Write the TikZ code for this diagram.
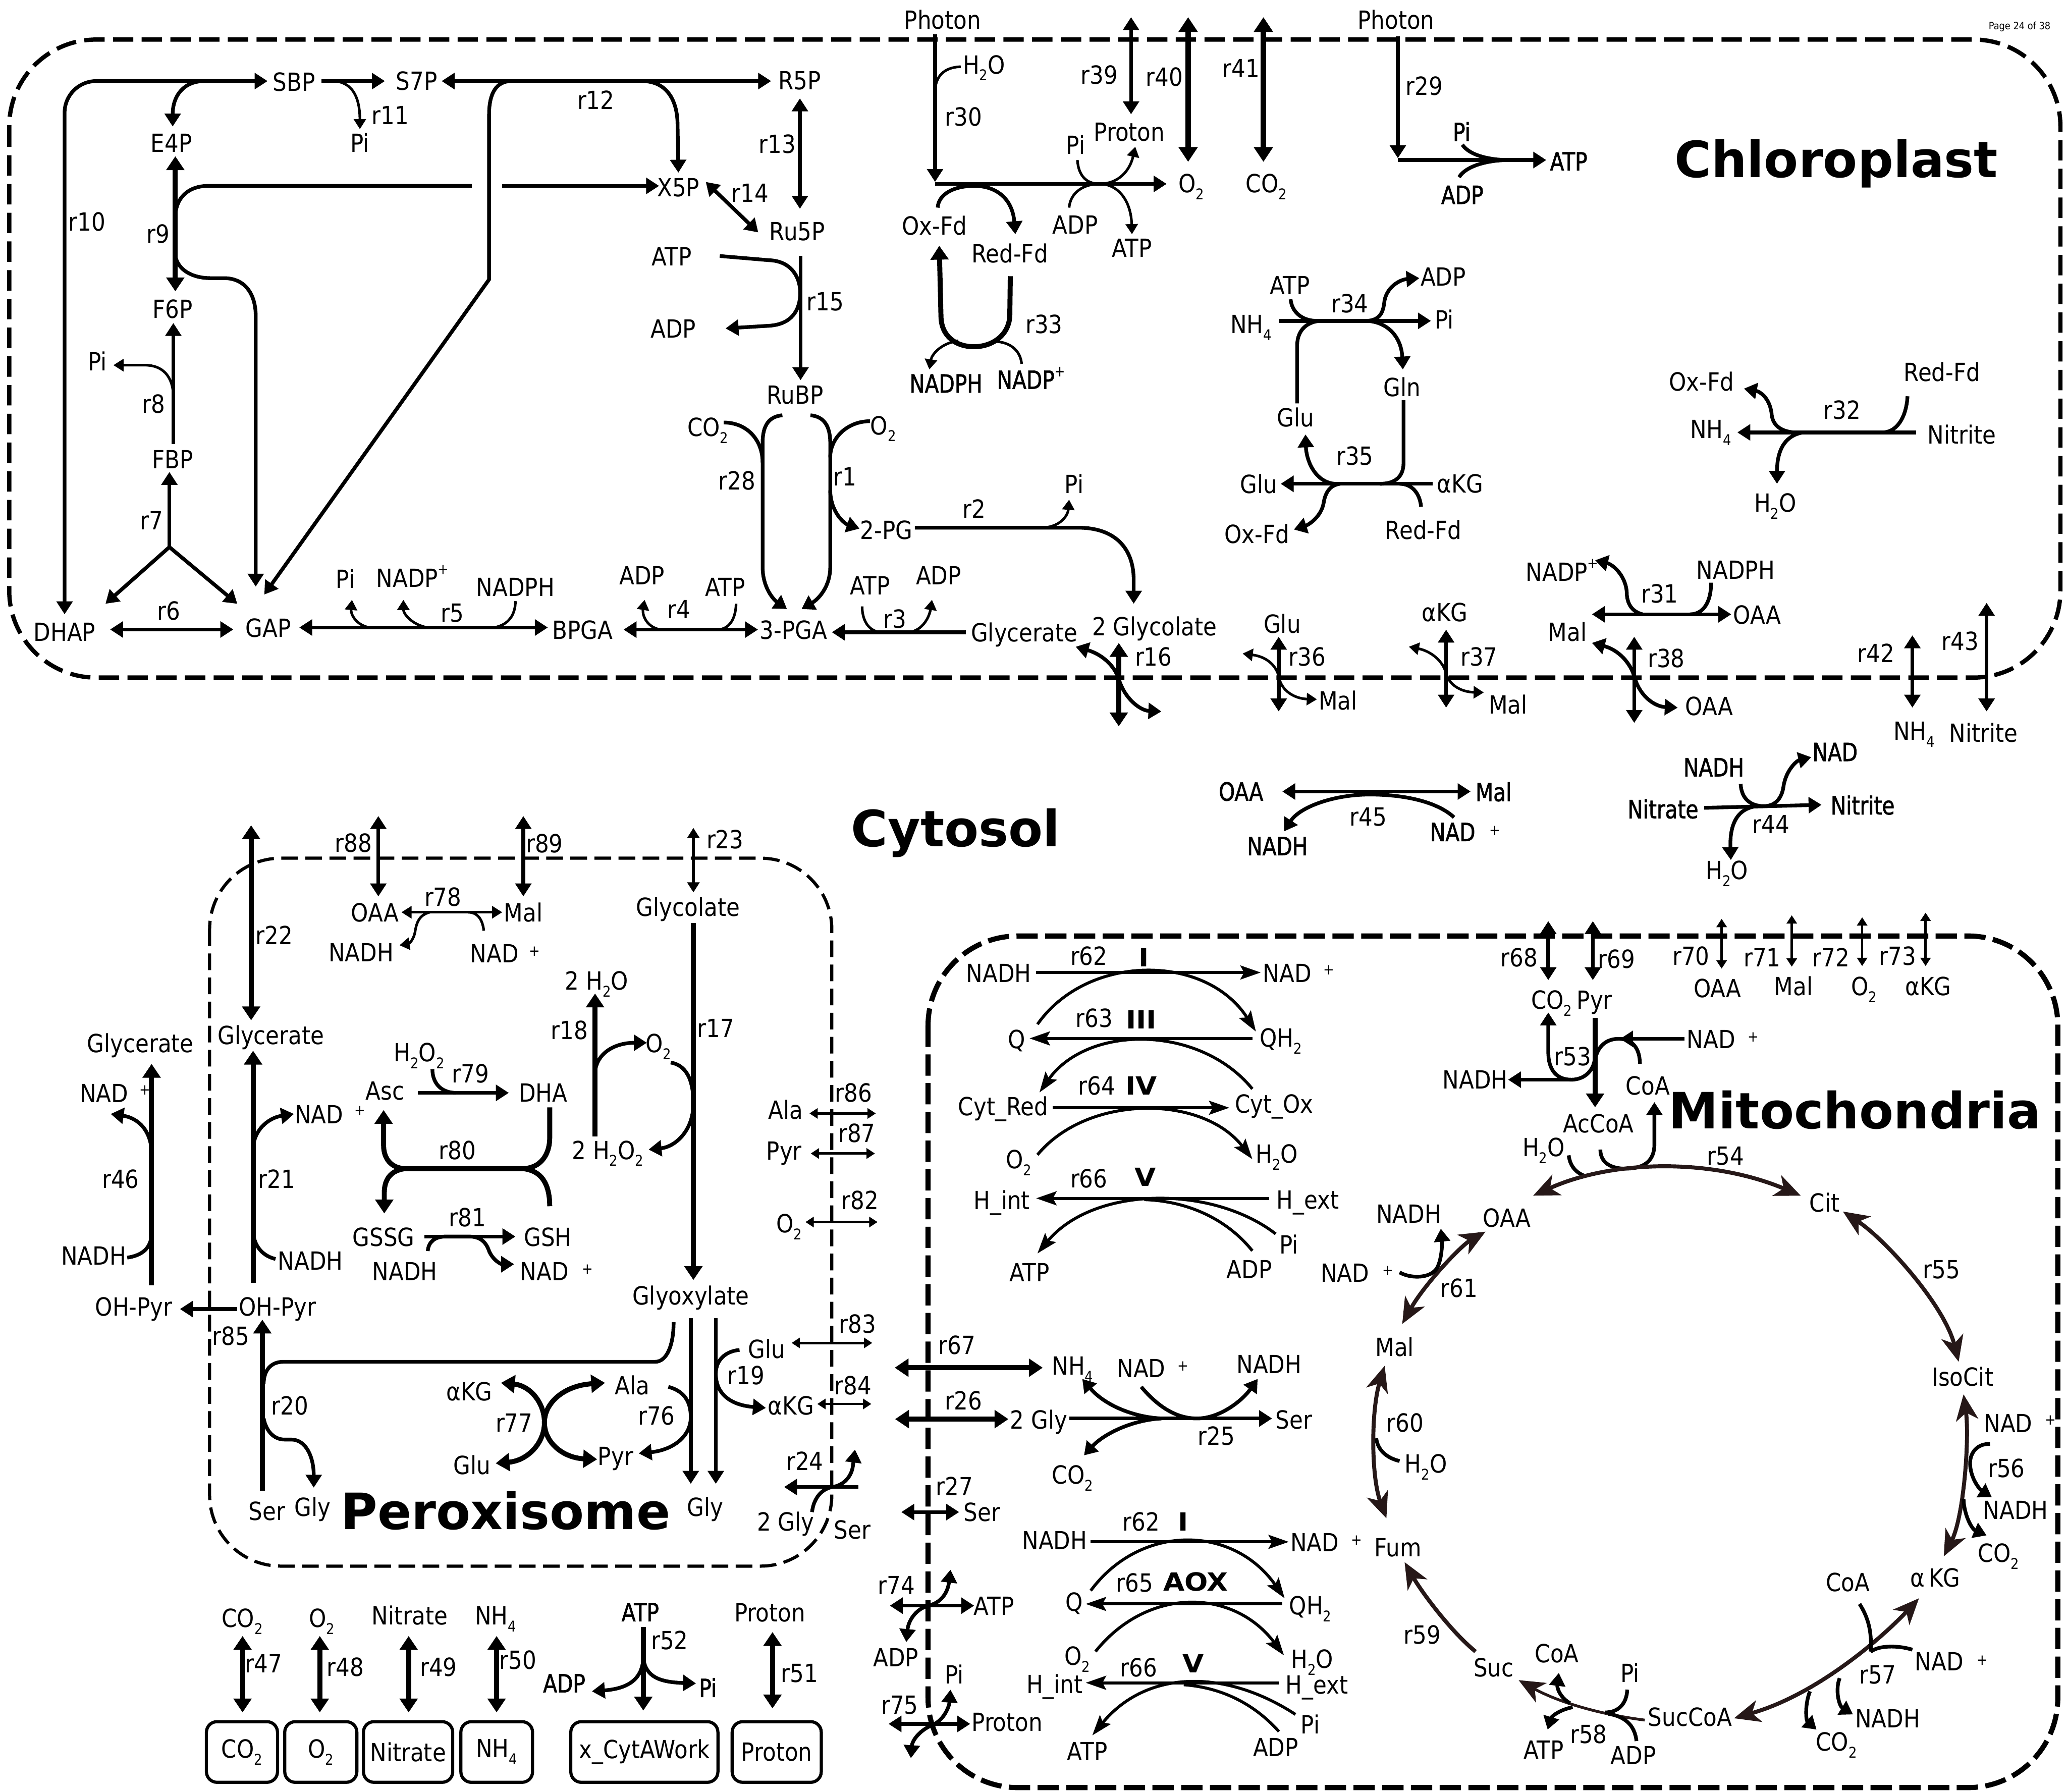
\documentclass[tikz,border=0pt]{standalone}
\usepackage{fontspec}
\setmainfont{DejaVu Sans}[FakeStretch=0.88]
\newfontfamily\titlef{DejaVu Sans}
\newfontfamily\romf{DejaVu Sans}[FakeStretch=1.1]
\newfontfamily\boldf{DejaVu Sans}[FakeStretch=0.82,FakeBold=1.5]
\usetikzlibrary{arrows.meta}
\newcommand\fs{\fontsize{27}{30}\selectfont}
\newcommand\sbs[1]{\raisebox{-0.28em}{\fontsize{16}{16}\selectfont #1}}
\newcommand\sps[1]{\raisebox{0.5em}{\fontsize{16}{16}\selectfont #1}}
\definecolor{tca}{RGB}{38,24,24}
\begin{document}
\begin{tikzpicture}[x=0.05cm,y=-0.05cm,
 every node/.style={font=\fs,inner sep=0pt,anchor=mid,yshift=-0.27cm},
 ln/.style={line width=4pt,>={Triangle[length=14pt,width=17pt]}},
 tk/.style={line width=5.4pt,>={Triangle[length=15pt,width=19pt]}},
 vt/.style={line width=6pt,>={Triangle[length=16pt,width=20pt]}},
 tn/.style={line width=2.8pt,>={Triangle[length=11pt,width=13pt]}},
 xs/.style={line width=2.6pt,>={Triangle[length=9pt,width=11pt]}},
 et/.style={line width=3.2pt,>={Stealth[length=22pt,width=15pt,inset=4pt]}},
 big/.style={line width=4.3pt,draw=tca,>={Stealth[length=28pt,width=24pt,inset=8pt]}},
 chl/.style={line width=4.6pt,dash pattern=on 22pt off 9pt},
 mit/.style={line width=5.5pt,dash pattern=on 23pt off 8pt},
 per/.style={line width=3.4pt,dash pattern=on 18pt off 8pt},
 bxn/.style={draw,line width=3.4pt,rounded corners=0.4cm,anchor=center,minimum height=2.3cm,yshift=0.27cm},
 ttl/.style={font=\titlef\bfseries\fontsize{54}{60}\selectfont,anchor=base,yshift=0.27cm},
 bld/.style={font=\boldf\fontsize{27}{30}\selectfont},
 rom/.style={font=\romf\bfseries\fontsize{27}{30}\selectfont},
 pl/.style={font=\fontsize{16}{16}\selectfont},
]
\useasboundingbox (0,0) rectangle (1568,1359);
% ================= compartments
\draw[chl,rounded corners=3.3cm] (7,30) rectangle (1563,514);
\draw[per,rounded corners=2.7cm] (159,651) rectangle (631,1188);
\draw[mit,rounded corners=3.4cm] (704,710) rectangle (1561,1356);

% ================= chloroplast texts
\node (ph1) at (715,14.5) {Photon};
\node (ph2) at (1059,14.5) {Photon};
\node[font=\fontsize{11}{12}\selectfont] (pg) at (1532,15) {Page 24 of 38};
\node[ttl] (tchl) at (1393,134.4) {Chloroplast};
\node (SBP) at (223,61.6) {SBP};
\node (S7P) at (316,61) {S7P};
\node (R5P) at (606.5,60.7) {R5P};
\node (E4P) at (130,108) {E4P};
\node (pi11) at (273,108) {Pi};
\node (l11) at (296,87) {r11};
\node (l10) at (66,168) {r10};
\node (l9) at (120,177) {r9};
\node (F6P) at (131,234) {F6P};
\node (pi8) at (74,274) {Pi};
\node (l8) at (116.5,306) {r8};
\node (FBP) at (131,348) {FBP};
\node (l7) at (115,394.5) {r7};
\node (X5P) at (514.6,141.6) {X5P};
\node (l12) at (452,75.7) {r12};
\node (l13) at (589.7,109) {r13};
\node (l14) at (569,146) {r14};
\node (Ru5P) at (604.8,174.9) {Ru5P};
\node (atp15) at (509.5,194.2) {ATP};
\node (adp15) at (510.8,249) {ADP};
\node (l15) at (626,228.3) {r15};
\node (RuBP) at (603,299) {RuBP};
\node (co2r) at (537,323.7) {CO\sbs{2}};
\node (o2r) at (670,322.3) {O\sbs{2}};
\node (l28) at (559,364.2) {r28};
\node (l1) at (641,361.3) {r1};
\node (PGtwo) at (672.5,401.7) {2-PG};
\node (l2) at (739,385.8) {r2};
\node (pi2) at (814.8,367) {Pi};
\node (h2o30) at (746.4,48.6) {H\sbs{2}O};
\node (l30) at (731,88) {r30};
\node (oxfd) at (708.8,171) {Ox-Fd};
\node (redfd) at (766,192) {Red-Fd};
\node (l33) at (792,245.7) {r33};
\node[bld] (nadph33) at (717.6,290.5) {NADPH};
\node[bld] (nadp33) at (782,287.6) {NADP\sps{+}};
\node (l39) at (834,56.4) {r39};
\node (prot) at (856.7,99.7) {Proton};
\node (l40) at (883.2,57.8) {r40};
\node (o2c) at (903.8,138.7) {O\sbs{2}};
\node (l41) at (941.4,51.4) {r41};
\node (co2c) at (960.7,138.7) {CO\sbs{2}};
\node (pi30) at (816,109.8) {Pi};
\node (adp30) at (815.6,170) {ADP};
\node (atp30) at (858.7,187.9) {ATP};
\node (l29) at (1080.5,65) {r29};
\node[bld] (pi29) at (1108.8,99.7) {Pi};
\node[bld] (adp29) at (1109.3,147.4) {ADP};
\node[bld] (atp29) at (1190,122) {ATP};
\node (atp34) at (978.5,216.2) {ATP};
\node (adp34) at (1094.8,209.5) {ADP};
\node (nh434) at (949,245.7) {NH\sbs{4}};
\node (l34) at (1024,229.8) {r34};
\node (pi34) at (1095.5,242.2) {Pi};
\node (gln) at (1063.7,293.4) {Gln};
\node (glu34) at (982.7,316.5) {Glu};
\node (l35) at (1027.8,345.4) {r35};
\node (glu35) at (955,367) {Glu};
\node (akg35) at (1107.6,366.5) {αKG};
\node (oxfd35) at (953.4,404.6) {Ox-Fd};
\node (redfd35) at (1079.7,401.7) {Red-Fd};
\node (oxfd32) at (1290.8,289) {Ox-Fd};
\node (redfd32) at (1473.2,281.8) {Red-Fd};
\node (nh432) at (1297.8,325.1) {NH\sbs{4}};
\node (l32) at (1397.3,310.7) {r32};
\node (nit32) at (1488.3,329.5) {Nitrite};
\node (h2o32) at (1346.7,381) {H\sbs{2}O};
\node (nadp31) at (1185,433.5) {NADP\sps{+}};
\node (l31) at (1259,450) {r31};
\node (nadph31) at (1316.6,432) {NADPH};
\node (mal31) at (1189,479) {Mal};
\node (oaa31) at (1333,466) {OAA};
\node (pi5) at (262,439) {Pi};
\node (nadp5) at (313,438) {NADP\sps{+}};
\node (nadph5) at (391,445) {NADPH};
\node (l5) at (343,464.5) {r5};
\node (DHAP) at (49,479) {DHAP};
\node (l6) at (128,463) {r6};
\node (GAP) at (203.5,476) {GAP};
\node (BPGA) at (442,477.6) {BPGA};
\node (l4) at (515,461.7) {r4};
\node (adp4) at (487,436) {ADP};
\node (atp4) at (550,445) {ATP};
\node (PGA) at (602,477.6) {3-PGA};
\node (atp3) at (660,444) {ATP};
\node (adp3) at (712,436) {ADP};
\node (l3) at (678.7,469) {r3};
\node (glyc) at (777,479.6) {Glycerate};
\node (glycotwo) at (875.7,474.7) {2 Glycolate};
\node (l16) at (875,497.8) {r16};
\node (glu36) at (972.7,473) {Glu};
\node (l36) at (991.5,497.8) {r36};
\node (mal36) at (1015,531) {Mal};
\node (akg37) at (1096,464) {αKG};
\node (l37) at (1122,497.8) {r37};
\node (mal37) at (1144,534) {Mal};
\node (l38) at (1264,499) {r38};
\node (oaa38) at (1296.6,535.4) {OAA};
\node (l42) at (1423,495) {r42};
\node (nh442) at (1452,554) {NH\sbs{4}};
\node (l43) at (1487,486) {r43};
\node (nit43) at (1504.6,555.6) {Nitrite};

% ================= cytosol texts
\node[ttl] (tcyt) at (725,642.3) {Cytosol};
\node[bld] (oaa45) at (941.4,600) {OAA};
\node[bld] (mal45) at (1133,600.4) {Mal};
\node (l45) at (1038,619) {r45};
\node[bld] (nadh45) at (969,641.4) {NADH};
\node[bld] (nad45) at (1102,630.7) {NAD};
\node[pl] (p45) at (1134,626.4) {+};
\node[bld] (nadh44) at (1300,581.6) {NADH};
\node[bld] (nad44) at (1392,570) {NAD};
\node[bld] (nitra44) at (1261.5,613.4) {Nitrate};
\node[bld] (nitri44) at (1413,610.5) {Nitrite};
\node (l44) at (1343.4,625) {r44};
\node (h2o44) at (1310,659.6) {H\sbs{2}O};
\node (l88) at (268,639) {r88};
\node (l89) at (413,639.4) {r89};
\node (l23) at (550,636.5) {r23};
\node (l22) at (208,709) {r22};
\node (oaa78) at (284.5,692) {OAA};
\node (l78) at (336,680) {r78};
\node (mal78) at (397,692) {Mal};
\node (nadh78) at (274,722) {NADH};
\node (nad78) at (375,723) {NAD};
\node[pl] (p78) at (405.5,718) {+};
\node (glyco) at (522,687.7) {Glycolate};
\node (glyc46) at (106.5,791) {Glycerate};
\node (glyc21) at (205.5,785) {Glycerate};
\node (nad46) at (79,829) {NAD};
\node[pl] (p46) at (110,823) {+};
\node (l46) at (91.5,894) {r46};
\node (nadh46) at (71,952) {NADH};
\node (ohpa) at (101.5,991) {OH-Pyr};
\node (ohpb) at (210.5,991) {OH-Pyr};
\node (l85) at (175,1013) {r85};
\node (nad21) at (242,845) {NAD};
\node[pl] (p21) at (273,839) {+};
\node (l21) at (210,894) {r21};
\node (nadh21) at (235.5,956) {NADH};
\node (h2o2a) at (318,798) {H\sbs{2}O\sbs{2}};
\node (l79) at (357,814) {r79};
\node (asc) at (292,827) {Asc};
\node (dha) at (412,828.7) {DHA};
\node (l80) at (347,872) {r80};
\node (gssg) at (291,938) {GSSG};
\node (l81) at (354.5,923) {r81};
\node (gsh) at (415.5,938) {GSH};
\node (nadh81) at (307,964) {NADH};
\node (nad81) at (413,964) {NAD};
\node[pl] (p81) at (445.6,959) {+};
\node (h2o18) at (452.6,743.5) {2 H\sbs{2}O};
\node (l18) at (432,781) {r18};
\node (o218) at (499.5,791) {O\sbs{2}};
\node (l17) at (543,779.6) {r17};
\node (h2o2b) at (461,872) {2 H\sbs{2}O\sbs{2}};
\node (ala86) at (596,841.7) {Ala};
\node (l86) at (647.4,828.7) {r86};
\node (pyr87) at (594.8,872.6) {Pyr};
\node (l87) at (650,859) {r87};
\node (o282) at (598.5,927.7) {O\sbs{2}};
\node (l82) at (652.4,910) {r82};
\node (glyox) at (524,982.6) {Glyoxylate};
\node (glu19) at (581.5,1023) {Glu};
\node (l19) at (566,1043) {r19};
\node (akg19) at (600,1066) {αKG};
\node (l83) at (650.6,1003.7) {r83};
\node (l84) at (647,1050.5) {r84};
\node (l20) at (220,1066) {r20};
\node (ser20) at (202.5,1146) {Ser};
\node (gly20) at (237,1143) {Gly};
\node (akg77) at (356,1055) {αKG};
\node (l77) at (390,1079) {r77};
\node (glu77) at (358,1111) {Glu};
\node (ala76) at (479.5,1050.5) {Ala};
\node (l76) at (498,1073.6) {r76};
\node (pyr76) at (467,1104) {Pyr};
\node (gly17) at (535,1143) {Gly};
\node[ttl] (tper) at (383.6,1160) {Peroxisome};
\node (l24) at (610.5,1108) {r24};
\node (gly24) at (596,1154) {2 Gly};
\node (ser24) at (646.6,1160) {Ser};
\node (l67) at (726,1020) {r67};
\node (nh425) at (813.6,1035.5) {NH\sbs{4}};
\node (l26) at (731,1062) {r26};
\node (gly26) at (788,1076.5) {2 Gly};
\node (l27) at (724,1127) {r27};
\node (ser27) at (745,1146.5) {Ser};
\node (l74) at (680,1202) {r74};
\node (atp74) at (754,1218) {ATP};
\node (adp74) at (679.5,1257) {ADP};
\node (l75) at (682.5,1293) {r75};
\node (pi75) at (724,1270) {Pi};
\node (prot75) at (764,1306) {Proton};
% bottom exchange
\node (co2b) at (183.7,1227) {CO\sbs{2}};
\node (o2b) at (244,1227) {O\sbs{2}};
\node (nitb) at (310.8,1225) {Nitrate};
\node (nh4b) at (376,1225) {NH\sbs{4}};
\node (l47) at (200,1261.5) {r47};
\node (l48) at (262,1264) {r48};
\node (l49) at (332.6,1264) {r49};
\node (l50) at (393,1259) {r50};
\node[bld] (atp52) at (485.7,1222.5) {ATP};
\node (l52) at (508,1244) {r52};
\node[bld] (adp52) at (428,1276.5) {ADP};
\node[bld] (pi52) at (537,1280) {Pi};
\node (protb) at (584,1223) {Proton};
\node (l51) at (606.5,1268.7) {r51};
\node[bxn,minimum width=2.695cm] (bco2) at (183.55,1329) {CO\sbs{2}};
\node[bxn,minimum width=2.735cm] (bo2) at (243.35,1329) {O\sbs{2}};
\node[bxn,minimum width=3.385cm] (bnit) at (309.55,1329) {Nitrate};
\node[bxn,minimum width=2.72cm] (bnh4) at (376.8,1329) {NH\sbs{4}};
\node[bxn,minimum width=5.58cm] (bwork) at (488.8,1329) {x\_CytAWork};
\node[bxn,minimum width=3.38cm] (bprot) at (589.2,1329) {Proton};

% ================= mitochondria texts
\node[ttl] (tmit) at (1407,856) {Mitochondria};
\node (l68) at (1152.4,726) {r68};
\node (co268) at (1177,758) {CO\sbs{2}};
\node (l69) at (1226.4,727) {r69};
\node (pyr69) at (1209.6,758) {Pyr};
\node (l70) at (1282.8,724.7) {r70};
\node (oaa70) at (1302.8,749.2) {OAA};
\node (l71) at (1336.7,726) {r71};
\node (mal71) at (1360.5,747.8) {Mal};
\node (l72) at (1389,726) {r72};
\node (o272) at (1414,747.8) {O\sbs{2}};
\node (l73) at (1439.4,724.7) {r73};
\node (akg73) at (1462.7,747.8) {αKG};
\node (nad53) at (1298,788) {NAD};
\node[pl] (p53) at (1330,783) {+};
\node (l53) at (1193,801) {r53};
\node (coa53) at (1250,823) {CoA};
\node (nadh53) at (1119,818.6) {NADH};
\node (accoa) at (1212.6,852) {AcCoA};
\node (h2o54) at (1171,870) {H\sbs{2}O};
\node (l54) at (1309,876.4) {r54};
\node (oaa54) at (1143,923.3) {OAA};
\node (cit) at (1384,911.8) {Cit};
\node (nadh61) at (1068.7,920.5) {NADH};
\node (l55) at (1472.7,962.4) {r55};
\node (isocit) at (1488.8,1044) {IsoCit};
\node (nad61) at (1020.3,965.2) {NAD};
\node[pl] (p61) at (1053,960.3) {+};
\node (l61) at (1106.8,976.8) {r61};
\node (mal61) at (1058,1021.6) {Mal};
\node (nad56) at (1523.4,1079.4) {NAD};
\node[pl] (p56) at (1555.4,1073.6) {+};
\node (l56) at (1522,1113.5) {r56};
\node (nadh56) at (1529,1145.3) {NADH};
\node (co256) at (1516,1177.7) {CO\sbs{2}};
\node (akg56) at (1468,1196.5) {α\,KG};
\node (l60) at (1066,1078.8) {r60};
\node (h2o60) at (1081.7,1109.8) {H\sbs{2}O};
\node (fum) at (1060.4,1173.3) {Fum};
\node (l59) at (1079,1239.8) {r59};
\node (suc) at (1133,1264.4) {Suc};
\node (coa57) at (1401.8,1200) {CoA};
\node (nad57) at (1471,1260) {NAD};
\node[pl] (p57) at (1503.8,1255.7) {+};
\node (l57) at (1424.4,1270) {r57};
\node (nadh57) at (1432,1303.4) {NADH};
\node (co257) at (1393,1320.7) {CO\sbs{2}};
\node (succoa) at (1282,1302) {SucCoA};
\node (pi58) at (1236.4,1268.7) {Pi};
\node (adp58) at (1239,1331) {ADP};
\node (l58) at (1205,1315) {r58};
\node (coa58) at (1181,1254) {CoA};
\node (atp58) at (1171,1327) {ATP};
% ETC upper
\node (nadh62) at (757.7,737.7) {NADH};
\node (l62) at (826,724.7) {r62};
\node[rom] (cI) at (867.5,726) {I};
\node (nad62) at (976.5,737.7) {NAD};
\node[pl] (p62) at (1008,732) {+};
\node (q63) at (771.4,788) {Q};
\node (l63) at (830,772) {r63};
\node[rom] (cIII) at (865.7,773) {III};
\node (qh263) at (971.5,786.8) {QH\sbs{2}};
\node (cytr) at (761,838.8) {Cyt\_Red};
\node (l64) at (832,823) {r64};
\node[rom] (cIV) at (865.7,823) {IV};
\node (cyto) at (966.5,836.8) {Cyt\_Ox};
\node (o264) at (772.7,879) {O\sbs{2}};
\node (h2o64) at (968.5,875) {H\sbs{2}O};
\node (hinta) at (760,910) {H\_int};
\node (l66) at (826,893.8) {r66};
\node[rom] (cV) at (868.7,892.3) {V};
\node (hexta) at (992,909.6) {H\_ext};
\node (atp66) at (781,965) {ATP};
\node (pi66) at (977.7,943.6) {Pi};
\node (adp66) at (947.7,962.4) {ADP};
% ETC lower
\node (nadh62b) at (800,1168) {NADH};
\node (l62b) at (865.7,1154) {r62};
\node[rom] (cIb) at (897.5,1154) {I};
\node (nad62b) at (997.3,1169.6) {NAD};
\node[pl] (p62b) at (1029,1164.7) {+};
\node (q65) at (814.8,1214.7) {Q};
\node (l65) at (860.7,1200.2) {r65};
\node[rom] (aox) at (907,1199.4) {AOX};
\node (qh265) at (994,1217.6) {QH\sbs{2}};
\node (o265) at (817.3,1255.7) {O\sbs{2}};
\node (h2o65) at (995.3,1258) {H\sbs{2}O};
\node (hintb) at (800,1277) {H\_int};
\node (l66b) at (863.7,1264.4) {r66};
\node[rom] (cVb) at (905,1261.5) {V};
\node (hextb) at (999,1277.4) {H\_ext};
\node (pi66b) at (994,1307.7) {Pi};
\node (atp66b) at (824.8,1328) {ATP};
\node (adp66b) at (967.7,1325) {ADP};
\node (nad25) at (865.7,1037.5) {NAD};
\node[pl] (p25) at (897.5,1032.6) {+};
\node (nadh25) at (962.7,1034.6) {NADH};
\node (l25) at (922.6,1088.7) {r25};
\node (ser25) at (981.5,1076.5) {Ser};
\node (co225) at (813.6,1118.4) {CO\sbs{2}};

% ================= connectors: Calvin cycle
\draw[ln,<->,rounded corners=1.2cm] (49,466) |- (203,61.5);
\draw[ln,->] (155,61.5) .. controls (140,61.5) and (131,72) .. (131,96);
\draw[ln,->] (244,61.5) -- (292,61.5);
\draw[tn,->] (252,61.5) .. controls (266,61.5) and (273,72) .. (273,98);
\draw[tk,<->] (133,118.5) -- (133,221);
\draw[ln] (133,165) .. controls (133,150) and (143,141) .. (158,141) -- (358,141);
\draw[ln,->] (381,141) -- (500,141);
\draw[ln,->] (133,194) .. controls (135,205) and (146,211) .. (160,211) -- (170,211) .. controls (185,211) and (194,222) .. (194,240) -- (194,445);
\draw[ln,->] (131.5,337) -- (131.5,245);
\draw[tn,->] (131.5,300) .. controls (131,285) and (123,277) .. (110,277) -- (86,277);
\draw[ln,->] (128.5,415) -- (128.5,358);
\draw[ln,->] (128.5,415) -- (80,458);
\draw[ln,->] (128.5,415) -- (180,458);
\draw[ln,<->] (335,61.5) -- (585,61.5);
\draw[ln,->] (388,61.5) .. controls (377,61.5) and (371,70) .. (371,87) -- (371,212) -- (200.5,451);
\draw[ln,->] (487,61.5) .. controls (505,61.5) and (514,75) .. (514,95) -- (514.6,131);
\draw[ln,<->] (606.8,74.6) -- (606.8,158.4);
\draw[ln,<->] (535.4,138) -- (575.2,176.3);
\draw[ln,->] (607.3,194) -- (607.3,288.4);
\draw[ln,->] (546,194.2) -- (583.5,197.4) .. controls (600,198) and (607,210) .. (607,222) .. controls (607,236) and (600,246) .. (583.5,247.1) -- (550.4,249.1);
\draw[ln,->] (593.5,315) .. controls (583,316) and (578.5,323) .. (578.5,336) -- (578.5,430) .. controls (578.5,446) and (587,455) .. (597,462);
\draw[ln,->] (614.8,315) .. controls (625,316) and (629.8,323) .. (629.8,336) -- (629.8,430) .. controls (629.8,446) and (620,455) .. (608,462);
\draw[ln] (549,320.5) .. controls (566,320.5) and (578.5,333) .. (578.5,351);
\draw[ln] (660,319.5) .. controls (643,319.5) and (629.8,332) .. (629.8,347);
\draw[ln,->] (629.8,372) .. controls (630,388) and (640,397) .. (652,401);
\draw[ln,->] (694,400.3) -- (818,400.3) .. controls (845,400.3) and (860,415) .. (860,440) -- (860,458);
\draw[tn,->] (790,400.3) .. controls (803,400.3) and (810,392) .. (811,379);
\draw[ln,<->] (83.5,477.5) -- (177,477.5);
\draw[ln,<->] (227,476) -- (415.6,476);
\draw[tn,->] (280,476) .. controls (270,474) and (266,466) .. (267,455);
\draw[tn,->] (324,476) .. controls (313,474) and (306,466) .. (306,455);
\draw[tn] (375,476) .. controls (386,474) and (391,466) .. (391,456);
\draw[ln,<->] (473,477.6) -- (575,477.6);
\draw[tn,->] (501,477.6) .. controls (491,476) and (487,467) .. (489,455);
\draw[tn] (558.4,458) .. controls (558,470) and (553,477) .. (545,477.6);
\draw[ln,->] (732.6,479.6) -- (631,479.6);
\draw[tn] (654,460) .. controls (654,472) and (660,479) .. (668,479.6);
\draw[tn,->] (690,479.6) .. controls (700,478) and (705,468) .. (707,455);
% light reactions
\draw[ln,->] (709.3,26) -- (709.3,138);
\draw[tn] (728.8,50.6) .. controls (716,51) and (709.3,58) .. (709.3,70);
\draw[ln,->] (709.3,139.5) -- (885,139.5);
\draw[ln,->] (711.3,157.5) .. controls (712,147) and (724,141) .. (739,141) .. controls (755,141) and (768,150) .. (770.2,177.7);
\draw[tn,->] (817.3,121.4) .. controls (818,133) and (824,139.5) .. (834,139.5) .. controls (848,139.5) and (857,130) .. (861.2,111.3);
\draw[tn,->] (811,157.5) .. controls (812,146) and (822,139.5) .. (834,139.5) .. controls (848,139.5) and (858,152) .. (858.7,177.7);
\draw[tk,->] (766.4,209.5) -- (766,240) .. controls (765,255) and (752,263) .. (738.9,263) .. controls (725,263) and (714,255) .. (713.8,240) -- (712.5,186.4);
\draw[tn,->] (727,258.5) .. controls (715,260) and (707,268) .. (705,280.3);
\draw[tn] (775,276) .. controls (774,265) and (765,258.5) .. (752,259);
\draw[ln,<->] (858,13) -- (858,86.7);
\draw[vt,<->] (901.3,13) -- (901.3,122.8);
\draw[vt,<->] (958.4,13) -- (958.4,122.8);
\draw[ln,->] (1060.4,27.5) -- (1060.4,120);
\draw[ln,->] (1060.4,121.4) -- (1173,121.4);
\draw[ln] (1109.3,109.8) .. controls (1115,118) and (1130,121.4) .. (1145,121.4);
\draw[ln] (1106.8,134.4) .. controls (1112,126) and (1128,121.4) .. (1145,121.4);
% nitrogen assimilation
\draw[ln,->] (970.2,243.4) -- (1085.5,243.4);
\draw[ln] (979,227) .. controls (980,237) and (988,243.4) .. (999,243.4);
\draw[ln,->] (1036.6,243.4) .. controls (1046,243) and (1049,238) .. (1050,230) .. controls (1051,218) and (1062,212) .. (1076.7,211);
\draw[ln,->] (1036.6,243.4) .. controls (1052,244) and (1063,255) .. (1064.2,280.3);
\draw[ln] (1001.5,243.4) .. controls (992,244) and (984,250) .. (984,262) -- (984,306);
\draw[ln,->] (1086.8,367) -- (971.5,367);
\draw[ln] (1064.7,303.5) -- (1064.7,351) .. controls (1064.7,362) and (1058,367) .. (1046.6,367);
\draw[ln,->] (1012.8,367) .. controls (998,366) and (991,350) .. (990.3,329.5);
\draw[ln,->] (1016.6,367) .. controls (1008,368) and (1005,375) .. (1004,382) .. controls (1002,392) and (993,398) .. (981.5,401.7);
\draw[ln] (1078,384.4) .. controls (1077,374) and (1071,367) .. (1061.7,367);
\draw[ln,->] (1453.7,328) -- (1317.9,328);
\draw[ln] (1447,300.6) .. controls (1446,318) and (1438,328) .. (1428,328);
\draw[ln,->] (1360.5,328) .. controls (1350,327) and (1345,322) .. (1344,315) .. controls (1343,302) and (1335,297) .. (1322.9,294.8);
\draw[ln,->] (1368,328) .. controls (1355,330) and (1348,340) .. (1348,367);
\draw[ln,<->] (1207.6,466) -- (1313.3,466);
\draw[ln,->] (1246,466) .. controls (1238,464) and (1234,458) .. (1234,449) .. controls (1233,436) and (1223,428) .. (1210,425);
\draw[ln] (1298,442) .. controls (1298,457) and (1292,466) .. (1282,466);
% chloroplast envelope transport
\draw[tk,<->] (848.7,487.7) -- (848.7,551);
\draw[ln,<->] (816,490.6) .. controls (835,496) and (845,504) .. (848.7,515) .. controls (853,530) and (865,539) .. (881,539.7);
\draw[ln,<->] (970,483) -- (970,539.7);
\draw[tn,<->] (942.6,495.8) .. controls (960,498) and (968,504) .. (970.2,513.7) .. controls (972,524) and (982,530) .. (999,530.5);
\draw[ln,<->] (1097,477.6) -- (1097,536.8);
\draw[tn,<->] (1068.7,490.6) .. controls (1086,494) and (1095,502) .. (1097,511) .. controls (1100,521) and (1110,525) .. (1125.6,525.3);
\draw[ln,<->] (1239.7,483) -- (1239.7,548.4);
\draw[ln,<->] (1207.6,487.7) .. controls (1228,493) and (1237,503) .. (1240,514) .. controls (1244,528) and (1255,536) .. (1272.7,536.8);
\draw[ln,<->] (1450.7,481.9) -- (1450.7,536.8);
\draw[ln,<->] (1507,457.3) -- (1507,539.7);
% cytosol
\draw[ln,<->] (972.7,600.4) -- (1115.6,600.4);
\draw[ln,->] (1103,620) .. controls (1090,608) and (1065,602.7) .. (1039,602.7) .. controls (1012,602.7) and (986,612) .. (974,630.7);
\draw[ln,->] (1292.8,612.8) -- (1381.8,610.5);
\draw[ln,->] (1320.4,594.6) .. controls (1321,606) and (1328,611.5) .. (1338,611.5) .. controls (1348,611.5) and (1352,604) .. (1353,596) .. controls (1355,584) and (1363,577) .. (1374,574.4);
\draw[ln,->] (1333,611.5) .. controls (1318,613) and (1312,625) .. (1313,652.4);
% peroxisome and cytosol left
\draw[ln,<->] (287,619) -- (287,680);
\draw[ln,<->] (397,619) -- (397,680);
\draw[tn,<->] (526,628) -- (526,677);
\draw[tk,<->] (190.5,626) -- (190.5,774);
\draw[tn,<->] (304.5,692) -- (381,692);
\draw[tn,->] (326,692) .. controls (318,694) and (316,700) .. (315,706) .. controls (314,713) and (310,716) .. (303,717);
\draw[tn] (367,706) .. controls (366,697) and (362,692) .. (355,692);
\draw[tk,->] (115,975) -- (115,807);
\draw[ln,->] (115,875) .. controls (115,858) and (105,848) .. (84,845);
\draw[ln] (96.5,954) .. controls (110,952) and (115,945) .. (115,935);
\draw[tk,->] (192,973) -- (192,797);
\draw[ln,->] (192,872) .. controls (192,858) and (203,848) .. (223,845);
\draw[ln] (192,935) .. controls (193,946) and (200,953) .. (209,955);
\draw[ln,->] (180,993) -- (136.5,993);
\draw[tk,->] (199,1131) -- (199,1001);
\draw[ln] (200,1050) .. controls (200,1040) and (205,1033) .. (215,1033) -- (497,1033) .. controls (506,1033) and (511,1020) .. (511,1003);
\draw[ln,->] (200,1076) .. controls (202,1086) and (208,1092) .. (216,1092) -- (221,1092) .. controls (232,1092) and (238,1105) .. (238,1128.5);
\draw[tk,->] (526,700) -- (526,971);
\draw[ln,->] (524,1000) -- (524,1125.6);
\draw[ln,->] (543,1000) -- (543,1125.6);
\draw[tk,->] (451.4,862) -- (451.4,753.6);
\draw[ln,->] (451.4,814) .. controls (452,800) and (465,791) .. (490.7,791);
\draw[ln,->] (508.8,806) .. controls (520,808) and (526,818) .. (526,837) .. controls (526,858) and (512,870) .. (492,872);
\draw[ln,->] (317,829) -- (386,829);
\draw[ln] (328,811) .. controls (328,822) and (335,829) .. (346,829);
\draw[tk,->] (307,886.5) .. controls (296,886) and (291,878) .. (291,869) -- (291,842);
\draw[tk] (307,886.5) -- (397,886.5) .. controls (410,886) and (417,876) .. (417,863) -- (417,840);
\draw[tk,->] (307,886.5) .. controls (296,888) and (291.5,895) .. (291.5,905) -- (291.5,920.5);
\draw[tk] (397,886.5) .. controls (410,888) and (417,897) .. (417,915);
\draw[ln,->] (322,938) -- (391,938);
\draw[ln,->] (324.5,949) .. controls (325,942) and (330,938) .. (338,938) -- (356,938) .. controls (365,938) and (369,943) .. (371,949) .. controls (374,956) and (380,959) .. (390,959);
\draw[xs,<->] (614,844.6) -- (664.4,844.6);
\draw[xs,<->] (615,875) -- (663.7,875);
\draw[xs,<->] (611,927) -- (665.7,927);
\draw[xs,<->] (600.5,1018.7) -- (661.7,1018.7);
\draw[xs,<->] (620,1065) -- (661,1065);
\draw[ln,->] (561,1024) .. controls (550,1025) and (543,1032) .. (543,1042) .. controls (543,1058) and (555,1066) .. (581,1068);
\draw[ln,->] (507,1052) .. controls (518,1055) and (524,1062) .. (524,1075) .. controls (524,1090) and (510,1100) .. (484.5,1102.5);
\draw[tk,<->] (380,1049) .. controls (402,1051) and (413,1064) .. (413,1079) .. controls (413,1095) and (400,1108) .. (376,1110);
\draw[tk,<->] (459,1049) .. controls (428,1051) and (413,1064) .. (413,1079) .. controls (413,1095) and (428,1106) .. (453,1107);
\draw[ln,->] (651,1128) -- (594.8,1128);
\draw[ln,->] (631,1128) .. controls (640,1127) and (646,1120) .. (647,1112) -- (648.6,1099.6);
\draw[ln] (631,1128) .. controls (622,1130) and (617,1138) .. (616,1147);
\draw[tk,<->] (678.7,1037.5) -- (791,1037.5);
\draw[tk,<->] (679,1076.5) -- (765,1076.5);
\draw[ln,<->] (683.7,1147) -- (727.6,1147);
\draw[ln,<->] (675,1218) -- (739,1218);
\draw[ln,->] (704,1218) .. controls (714,1216) and (719,1208) .. (721,1190.7);
\draw[ln,->] (704,1218) .. controls (694,1221) and (689,1230) .. (687.5,1245.6);
\draw[ln,<->] (674,1307.7) -- (736,1307.7);
\draw[ln,->] (709,1307.7) .. controls (716,1304) and (720,1295) .. (721,1281.7);
\draw[ln,->] (709,1307.7) .. controls (698,1312) and (692,1320) .. (691,1333.7);
% bottom exchanges
\draw[tk,<->] (184,1241) -- (184,1299);
\draw[tk,<->] (242.6,1241) -- (242.6,1299);
\draw[tk,<->] (310,1241) -- (310,1299);
\draw[tk,<->] (376.7,1241) -- (376.7,1299);
\draw[tk,<->] (586,1238) -- (586,1296);
\draw[tk,->] (488,1234) -- (488,1297.6);
\draw[ln,->] (488,1258) .. controls (487,1275) and (475,1281) .. (449,1283);
\draw[ln,->] (488,1258) .. controls (490,1272) and (500,1276) .. (528,1277);
% ETC upper
\draw[et,->] (786,737.7) -- (956.4,737.7);
\draw[et,->] (787,777) .. controls (825,723) and (915,723) .. (952.7,782.5);
\draw[et,->] (950,787.7) -- (781,787.7);
\draw[et,->] (950,826) .. controls (910,777) and (825,777) .. (788.5,828.7);
\draw[et,->] (798.5,840.3) -- (932.6,840.3);
\draw[et,->] (787,876) .. controls (825,830) and (912,830) .. (950,879.3);
\draw[et,->] (962.7,909) -- (786,909);
\draw[et,->] (967.7,936) .. controls (920,899) and (830,899) .. (787,950.8);
\draw[et] (950,948.8) .. controls (930,924) and (900,911) .. (868,910);
% ETC lower
\draw[et,->] (827.4,1169.6) -- (977.7,1169.6);
\draw[et,->] (827.4,1206.6) .. controls (865,1156) and (935,1156) .. (974.5,1212.4);
\draw[et,->] (972.7,1216.7) -- (823.6,1216.7);
\draw[et,->] (831,1252.8) .. controls (870,1204) and (935,1204) .. (974,1255.7);
\draw[et,->] (970.2,1276.5) -- (823.6,1276.5);
\draw[et,->] (982.7,1300.5) .. controls (930,1266) and (870,1266) .. (828.6,1316.4);
\draw[et] (970.2,1313.5) .. controls (950,1291) and (925,1280) .. (898,1278);
% r25
\draw[ln,->] (811,1076) -- (965,1076);
\draw[ln,->] (865.7,1052) .. controls (880,1069) and (894,1076) .. (908,1076) .. controls (925,1076) and (942,1063) .. (954,1046);
\draw[ln,->] (881,1076) .. controls (860,1075) and (838,1066) .. (821,1046);
\draw[ln,->] (881,1076) .. controls (860,1077) and (838,1087) .. (822.3,1104);
% mito transport
\draw[ln,<->] (1174.5,698.7) -- (1174.5,743.5);
\draw[ln,<->] (1208.3,698.7) -- (1208.3,743.5);
\draw[xs,<->] (1306,697) -- (1306,734.8);
\draw[xs,<->] (1359.2,694.3) -- (1359.2,733.3);
\draw[xs,<->] (1412.6,695.8) -- (1412.6,732.8);
\draw[xs,<->] (1460.7,692.3) -- (1460.7,732.8);
% r53, r54
\draw[tk,->] (1210,772) -- (1210,840);
\draw[ln,->] (1210,800) .. controls (1210,812) and (1202,819) .. (1192,819) .. controls (1181,819) and (1174.5,812) .. (1174.5,798) -- (1174.5,768);
\draw[ln,->] (1192,819) -- (1144,819);
\draw[ln] (1210,804) .. controls (1212,793) and (1219,788) .. (1228,788) .. controls (1238,788) and (1244,795) .. (1244,807);
\draw[ln,->] (1277.8,788) -- (1229,788);
\draw[ln,->] (1214,872) .. controls (1214,882) and (1222,886.5) .. (1233,886.5) .. controls (1248,886.5) and (1255,880) .. (1255,868) -- (1255,836);
\draw[ln] (1190,876.4) .. controls (1191,885) and (1196,890) .. (1203,892.3);
% TCA cycle
\draw[big,<->] (1163,907) .. controls (1225,879) and (1300,879) .. (1366,907);
\draw[big,<->] (1398,919) .. controls (1430,940) and (1475,990) .. (1485.8,1033);
\draw[big,<->] (1489.5,1057.7) .. controls (1494,1090) and (1490,1150) .. (1474.5,1180.6);
\draw[ln,->] (1509.6,1095.3) .. controls (1500,1095) and (1494,1102) .. (1494.5,1111) .. controls (1495,1122) and (1502,1130) .. (1511,1135.8);
\draw[ln,->] (1489.5,1137) .. controls (1490,1150) and (1496,1160) .. (1507,1164.7);
\draw[big,<->] (1455.7,1212.4) .. controls (1430,1240) and (1380,1285) .. (1315.4,1303.4);
\draw[ln] (1410.6,1216.7) .. controls (1418,1228) and (1420,1240) .. (1419,1252.8);
\draw[ln] (1450.7,1251.4) .. controls (1440,1248) and (1425,1248) .. (1419,1253);
\draw[ln,->] (1395.5,1273) .. controls (1392,1282) and (1395,1294) .. (1405.6,1300.5);
\draw[ln,->] (1373,1283) .. controls (1369,1293) and (1370,1305) .. (1378,1312);
\draw[big,line width=3pt,->] (1247.7,1304.8) .. controls (1210,1300) and (1180,1290) .. (1152,1274.5);
\draw[ln] (1234.4,1281.7) .. controls (1234,1292) and (1228,1299) .. (1217.6,1299);
\draw[ln] (1241.4,1320.7) .. controls (1240,1308) and (1232,1302) .. (1220,1300);
\draw[ln,->] (1191,1292) .. controls (1184,1288) and (1181,1281) .. (1182.5,1269);
\draw[ln,->] (1193,1295) .. controls (1183,1297) and (1177,1302) .. (1174,1312);
\draw[big,->] (1119.3,1252.8) .. controls (1100,1237) and (1078,1207) .. (1065.5,1185);
\draw[big,<->] (1050.4,1036) .. controls (1040,1070) and (1040,1120) .. (1051.7,1151.7);
\draw[ln] (1061.7,1108.3) .. controls (1052,1106) and (1045,1100) .. (1044,1091);
\draw[big,<->] (1126.9,934.3) .. controls (1108,945) and (1080,975) .. (1063.7,1004.3);
\draw[ln,->] (1061.7,965.2) .. controls (1070,970) and (1085,970) .. (1090,962) .. controls (1094,955) and (1094,942) .. (1093,932);
\end{tikzpicture}
\end{document}
